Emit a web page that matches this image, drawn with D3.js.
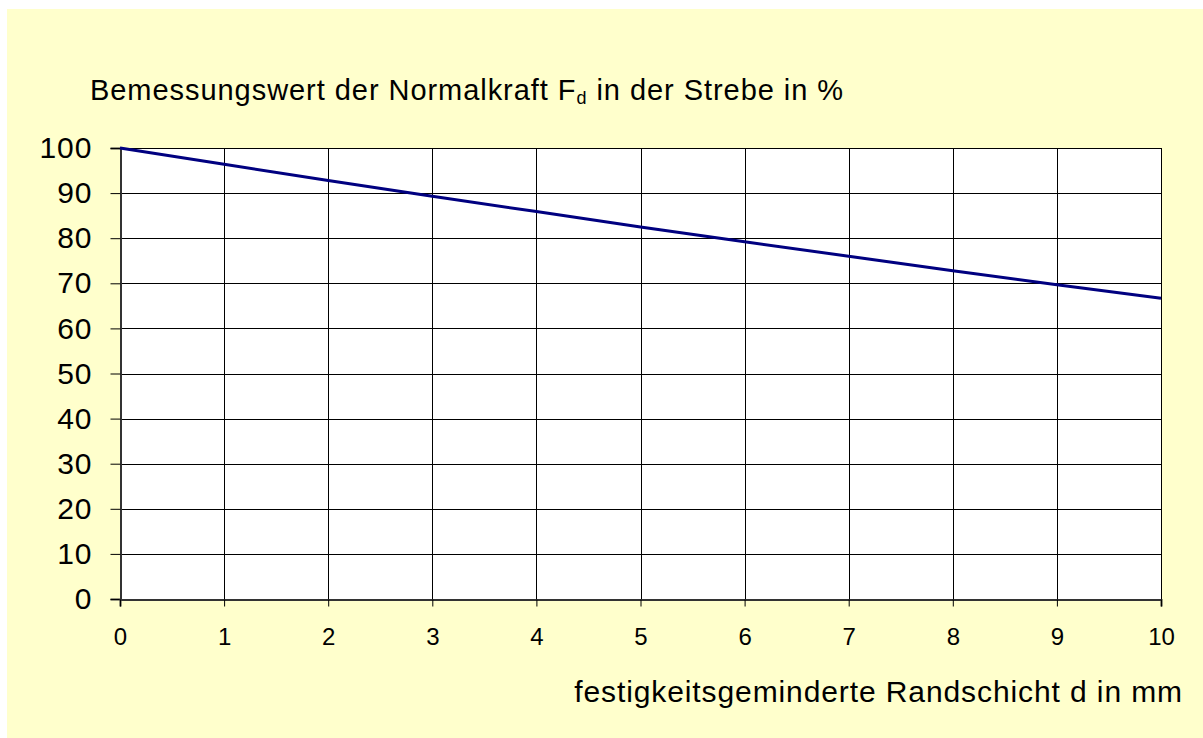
<!DOCTYPE html>
<html>
<head>
<meta charset="utf-8">
<script src="https://cdn.jsdelivr.net/npm/d3@7"></script>
<style>
  html, body { margin: 0; padding: 0; background: #ffffff; }
  svg { display: block; font-family: "Liberation Sans", Arial, sans-serif; }
</style>
</head>
<body>
<svg id="chart" width="1203" height="738"></svg>
<script>
// Remaining design axial force in the strut (%) over the weakened edge layer d (mm)
const depth = [0, 1, 2, 3, 4, 5, 6, 7, 8, 9, 10];
const forcePct = [100, 96.4, 92.8, 89.3, 85.9, 82.5, 79.2, 76.0, 72.8, 69.7, 66.7];
const xTicks = [0, 1, 2, 3, 4, 5, 6, 7, 8, 9, 10];
const yTicks = [0, 10, 20, 30, 40, 50, 60, 70, 80, 90, 100];

const svg = d3.select("#chart");
const W = 1203, H = 738;
const plot = { left: 120, right: 1161, top: 148, bottom: 599 };
const FONT = "Liberation Sans, Arial, sans-serif";

// chart background
svg.append("rect")
  .attr("x", 7).attr("y", 9)
  .attr("width", W - 7).attr("height", H - 9)
  .attr("fill", "#ffffcc");

// plot area
svg.append("rect")
  .attr("x", plot.left).attr("y", plot.top)
  .attr("width", plot.right - plot.left).attr("height", plot.bottom - plot.top)
  .attr("fill", "#ffffff");

const x = d3.scaleLinear().domain([0, 10]).range([plot.left, plot.right]);
const y = d3.scaleLinear().domain([0, 100]).range([plot.bottom, plot.top]);

// grid
const grid = svg.append("g").attr("stroke", "#000000").attr("stroke-width", 1).attr("shape-rendering", "crispEdges");
grid.selectAll("line.h").data(yTicks).join("line")
  .attr("x1", plot.left).attr("x2", plot.right)
  .attr("y1", d => Math.round(y(d)) + 0.5).attr("y2", d => Math.round(y(d)) + 0.5);
grid.selectAll("line.v").data(xTicks).join("line")
  .attr("y1", plot.top).attr("y2", plot.bottom)
  .attr("x1", d => Math.round(x(d)) + 0.5).attr("x2", d => Math.round(x(d)) + 0.5);

// y axis
const yAxis = svg.append("g")
  .attr("transform", `translate(${plot.left + 0.5},0)`)
  .call(d3.axisLeft(y).tickValues(yTicks).tickSize(10).tickPadding(18).tickFormat(d3.format("d")));
yAxis.select(".domain").attr("stroke", "#333333").attr("stroke-width", 2);
yAxis.selectAll(".tick line").attr("stroke", "#000000");
yAxis.selectAll(".tick text")
  .attr("font-size", 30).attr("letter-spacing", 1).attr("fill", "#000000")
  .attr("font-family", FONT);

// x axis
const xAxis = svg.append("g")
  .attr("transform", `translate(0,${plot.bottom + 0.5})`)
  .call(d3.axisBottom(x).tickValues(xTicks).tickSize(7).tickPadding(21).tickFormat(d3.format("d")));
xAxis.select(".domain").attr("stroke", "#333333").attr("stroke-width", 2);
xAxis.selectAll(".tick line").attr("stroke", "#000000");
xAxis.selectAll(".tick text")
  .attr("font-size", 24).attr("fill", "#000000")
  .attr("font-family", FONT);

// data line
const line = d3.line().x((d, i) => x(depth[i])).y(d => y(d));
svg.append("path")
  .datum(forcePct)
  .attr("d", line)
  .attr("fill", "none")
  .attr("stroke", "#000080")
  .attr("stroke-width", 3);

// axis titles
const title = svg.append("text")
  .attr("x", 90).attr("y", 100)
  .attr("font-size", 29).attr("letter-spacing", 0.95).attr("fill", "#000000");
title.append("tspan").text("Bemessungswert der Normalkraft F");
title.append("tspan").attr("font-size", 18).attr("dy", 4).text("d");
title.append("tspan").attr("dy", -4).text(" in der Strebe in %");

svg.append("text")
  .attr("x", 1183).attr("y", 702)
  .attr("text-anchor", "end")
  .attr("font-size", 30).attr("letter-spacing", 0.9).attr("fill", "#000000")
  .text("festigkeitsgeminderte Randschicht d in mm");
</script>
</body>
</html>
